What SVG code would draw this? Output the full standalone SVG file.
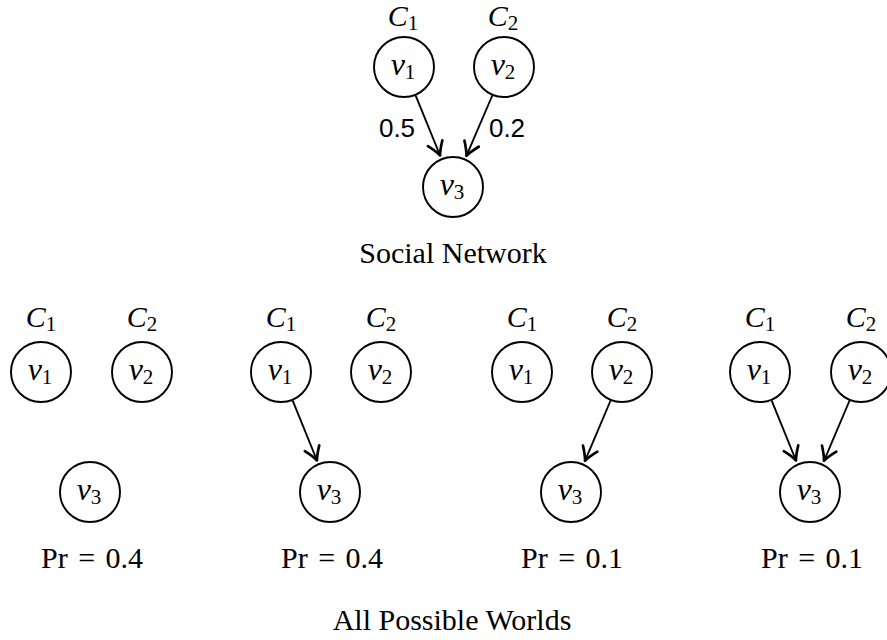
<svg xmlns="http://www.w3.org/2000/svg" width="887" height="640" viewBox="0 0 887 640">
<defs>
<style>
.n{fill:#fff;stroke:#000;stroke-width:1.9}
.t{font-family:"Liberation Serif","Times New Roman",serif;font-size:30px;fill:#000}
.i{font-style:italic;font-size:32px}
.c{font-style:italic;font-size:30px}
.s{font-size:21px}
.p{word-spacing:3px}
.e{stroke:#000;stroke-width:1.9;fill:none}
.w{font-family:"Liberation Sans",Arial,sans-serif;font-size:26px;fill:#000}
</style>
<marker id="ah" markerUnits="userSpaceOnUse" markerWidth="24" markerHeight="24" viewBox="-14 -10 16 20" refX="0" refY="0" orient="auto">
<path d="M-11,-6.5 Q-4.5,-1.8 0,0 Q-4.5,1.8 -11,6.5" fill="none" stroke="#000" stroke-width="2.2" stroke-linecap="round" stroke-linejoin="round"/>
</marker>
</defs>
<rect width="887" height="640" fill="#fff"/>

<!-- Social network -->
<g id="sn-v1"><circle class="n" cx="404" cy="67" r="30"/><text class="t" x="403" y="75" text-anchor="middle"><tspan class="i">v</tspan><tspan class="s" dy="4">1</tspan></text><text class="t" x="403" y="26" text-anchor="middle"><tspan class="c">C</tspan><tspan class="s" dy="4">1</tspan></text></g>
<g id="sn-v2"><circle class="n" cx="504" cy="67" r="30"/><text class="t" x="503" y="75" text-anchor="middle"><tspan class="i">v</tspan><tspan class="s" dy="4">2</tspan></text><text class="t" x="503" y="26" text-anchor="middle"><tspan class="c">C</tspan><tspan class="s" dy="4">2</tspan></text></g>
<g id="sn-v3"><circle class="n" cx="453" cy="187" r="30"/><text class="t" x="452" y="195" text-anchor="middle"><tspan class="i">v</tspan><tspan class="s" dy="4">3</tspan></text></g>
<g id="sn-edges">
<line class="e" x1="415.7" y1="95.7" x2="440.1" y2="155.5" marker-end="url(#ah)"/>
<line class="e" x1="492.3" y1="95.5" x2="466.4" y2="155.8" marker-end="url(#ah)"/>
<text class="w" x="397" y="137" text-anchor="middle">0.5</text>
<text class="w" x="507" y="137" text-anchor="middle">0.2</text>
</g>
<text class="t" x="453" y="263" text-anchor="middle">Social Network</text>

<!-- World 1 -->
<g id="w1-v1"><circle class="n" cx="41" cy="372" r="30"/><text class="t" x="40" y="380" text-anchor="middle"><tspan class="i">v</tspan><tspan class="s" dy="4">1</tspan></text><text class="t" x="41" y="327" text-anchor="middle"><tspan class="c">C</tspan><tspan class="s" dy="4">1</tspan></text></g>
<g id="w1-v2"><circle class="n" cx="142" cy="372" r="30"/><text class="t" x="141" y="380" text-anchor="middle"><tspan class="i">v</tspan><tspan class="s" dy="4">2</tspan></text><text class="t" x="142" y="327" text-anchor="middle"><tspan class="c">C</tspan><tspan class="s" dy="4">2</tspan></text></g>
<g id="w1-v3"><circle class="n" cx="90" cy="492" r="30"/><text class="t" x="89" y="500" text-anchor="middle"><tspan class="i">v</tspan><tspan class="s" dy="4">3</tspan></text></g>
<text class="t p" x="92" y="568" text-anchor="middle">Pr = 0.4</text>

<!-- World 2 -->
<g id="w2-v1"><circle class="n" cx="281" cy="372" r="30"/><text class="t" x="280" y="380" text-anchor="middle"><tspan class="i">v</tspan><tspan class="s" dy="4">1</tspan></text><text class="t" x="281" y="327" text-anchor="middle"><tspan class="c">C</tspan><tspan class="s" dy="4">1</tspan></text></g>
<g id="w2-v2"><circle class="n" cx="381" cy="372" r="30"/><text class="t" x="380" y="380" text-anchor="middle"><tspan class="i">v</tspan><tspan class="s" dy="4">2</tspan></text><text class="t" x="381" y="327" text-anchor="middle"><tspan class="c">C</tspan><tspan class="s" dy="4">2</tspan></text></g>
<g id="w2-v3"><circle class="n" cx="330" cy="492" r="30"/><text class="t" x="329" y="500" text-anchor="middle"><tspan class="i">v</tspan><tspan class="s" dy="4">3</tspan></text></g>
<text class="t p" x="332" y="568" text-anchor="middle">Pr = 0.4</text>

<!-- World 3 -->
<g id="w3-v1"><circle class="n" cx="522" cy="372" r="30"/><text class="t" x="521" y="380" text-anchor="middle"><tspan class="i">v</tspan><tspan class="s" dy="4">1</tspan></text><text class="t" x="522" y="327" text-anchor="middle"><tspan class="c">C</tspan><tspan class="s" dy="4">1</tspan></text></g>
<g id="w3-v2"><circle class="n" cx="622" cy="372" r="30"/><text class="t" x="621" y="380" text-anchor="middle"><tspan class="i">v</tspan><tspan class="s" dy="4">2</tspan></text><text class="t" x="622" y="327" text-anchor="middle"><tspan class="c">C</tspan><tspan class="s" dy="4">2</tspan></text></g>
<g id="w3-v3"><circle class="n" cx="571" cy="492" r="30"/><text class="t" x="570" y="500" text-anchor="middle"><tspan class="i">v</tspan><tspan class="s" dy="4">3</tspan></text></g>
<text class="t p" x="572" y="568" text-anchor="middle">Pr = 0.1</text>

<!-- World 4 -->
<g id="w4-v1"><circle class="n" cx="760" cy="372" r="30"/><text class="t" x="759" y="380" text-anchor="middle"><tspan class="i">v</tspan><tspan class="s" dy="4">1</tspan></text><text class="t" x="760" y="327" text-anchor="middle"><tspan class="c">C</tspan><tspan class="s" dy="4">1</tspan></text></g>
<g id="w4-v2"><circle class="n" cx="861" cy="372" r="30"/><text class="t" x="860" y="380" text-anchor="middle"><tspan class="i">v</tspan><tspan class="s" dy="4">2</tspan></text><text class="t" x="861" y="327" text-anchor="middle"><tspan class="c">C</tspan><tspan class="s" dy="4">2</tspan></text></g>
<g id="w4-v3"><circle class="n" cx="810" cy="492" r="30"/><text class="t" x="809" y="500" text-anchor="middle"><tspan class="i">v</tspan><tspan class="s" dy="4">3</tspan></text></g>
<text class="t p" x="812" y="568" text-anchor="middle">Pr = 0.1</text>

<g id="world-edges">
<line class="e" x1="292.7" y1="400.7" x2="317" y2="460.5" marker-end="url(#ah)"/>
<line class="e" x1="610.6" y1="400.5" x2="585" y2="460.8" marker-end="url(#ah)"/>
<line class="e" x1="771.7" y1="400.7" x2="796" y2="460.5" marker-end="url(#ah)"/>
<line class="e" x1="849.6" y1="400.5" x2="824" y2="460.8" marker-end="url(#ah)"/>
</g>

<text class="t" x="452" y="630" text-anchor="middle">All Possible Worlds</text>
</svg>
